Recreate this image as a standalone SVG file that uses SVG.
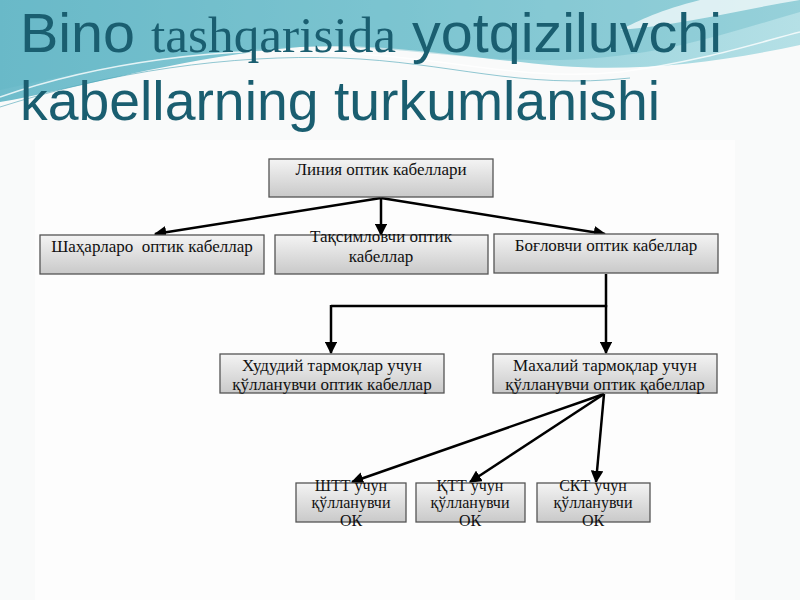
<svg xmlns="http://www.w3.org/2000/svg" width="800" height="600" viewBox="0 0 800 600">
<defs>
<linearGradient id="box" x1="0" y1="0" x2="0" y2="1">
<stop offset="0" stop-color="#f4f4f4"/>
<stop offset="1" stop-color="#c9c9c9"/>
</linearGradient>
<linearGradient id="sea" x1="0" y1="0" x2="1" y2="0">
<stop offset="0" stop-color="#6fbccb"/>
<stop offset="0.5" stop-color="#8ccdd8"/>
<stop offset="1" stop-color="#b5e0e6"/>
</linearGradient>
<marker id="ah" viewBox="0 0 10 10" refX="9" refY="5" markerWidth="5" markerHeight="5" orient="auto" markerUnits="strokeWidth">
<path d="M0,0 L10,5 L0,10 z" fill="#000"/>
</marker>
<style>
.bx{fill:url(#box);stroke:#555;stroke-width:1.3}
.t{font-family:"Liberation Serif","DejaVu Serif",serif;font-size:17px;fill:#111;text-anchor:middle}
.s{font-size:16px}
.ttl{font-family:"Liberation Sans",Arial,sans-serif;font-size:56px;fill:#1a5e70}
.c{stroke:#000;stroke-width:2.5;fill:none}
.a{marker-end:url(#ah)}
</style>
</defs>
<rect width="800" height="600" fill="#f9fafa"/>
<rect x="35" y="140" width="700" height="460" fill="#fdfdfd"/>
<g id="background">
<path d="M0,0 H800 V45 C720,62 640,72 560,66 C450,56 380,42 300,47 C180,57 80,88 0,102 Z" fill="url(#sea)"/>
<path d="M0,90 C80,72 180,50 300,47 C400,44 460,62 560,60 C660,58 730,32 800,12 V0 H0 Z" fill="#5fb4c4" opacity="0.35"/>
<path d="M700,0 C660,10 640,20 620,30 C680,25 740,10 800,0 Z" fill="#ffffff" opacity="0.7"/>
<path d="M0,97 C100,62 220,47 330,52 C450,57 520,82 620,72 C700,62 760,42 800,32" fill="none" stroke="#ffffff" stroke-width="1.5" opacity="0.8"/>
<path d="M0,107 C110,72 230,54 340,58 C450,62 520,90 630,78" fill="none" stroke="#4aa3b5" stroke-width="1" opacity="0.6"/>
</g>
<g id="title">
<text class="ttl" x="20" y="52" textLength="702" lengthAdjust="spacingAndGlyphs">Bino <tspan font-family="Liberation Serif,serif" font-size="50">tashqarisida</tspan> yotqiziluvchi</text>
<text class="ttl" x="20" y="120" textLength="640" lengthAdjust="spacingAndGlyphs">kabellarning turkumlanishi</text>
</g>
<g id="connectors">
<line class="c a" x1="381" y1="198" x2="155" y2="234"/>
<line class="c a" x1="381" y1="198" x2="381" y2="235"/>
<line class="c a" x1="381" y1="198" x2="605" y2="234"/>
<polyline class="c" points="606,274 606,306 331,306"/>
<line class="c a" x1="331" y1="305" x2="331" y2="353"/>
<line class="c a" x1="606" y1="305" x2="606" y2="353"/>
<line class="c a" x1="604" y1="394" x2="352" y2="482"/>
<line class="c a" x1="604" y1="394" x2="470" y2="482"/>
<line class="c a" x1="604" y1="394" x2="596" y2="482"/>
</g>
<g id="n-top"><rect class="bx" x="269" y="159" width="224" height="38"/><text class="t" x="381" y="175">Линия оптик кабеллари</text></g>
<g id="n-shaharlaro"><rect class="bx" x="40" y="235" width="224" height="39"/><text class="t" x="152" y="252" xml:space="preserve">Шаҳарларо  оптик кабеллар</text></g>
<g id="n-taqsimlovchi"><rect class="bx" x="275" y="235" width="213" height="39"/><text class="t" x="381" y="242">Тақсимловчи оптик</text><text class="t" x="381" y="262">кабеллар</text></g>
<g id="n-boglovchi"><rect class="bx" x="494" y="234" width="224" height="39"/><text class="t" x="606" y="251">Боғловчи оптик кабеллар</text></g>
<g id="n-hududiy"><rect class="bx" x="220" y="354" width="224" height="39"/><text class="t" x="332" y="371">Худудий тармоқлар учун</text><text class="t" x="332" y="390">қўлланувчи оптик кабеллар</text></g>
<g id="n-mahaliy"><rect class="bx" x="493" y="354" width="224" height="39"/><text class="t" x="605" y="371">Махалий тармоқлар учун</text><text class="t" x="605" y="390">қўлланувчи оптик қабеллар</text></g>
<g id="n-stt"><rect class="bx" x="296" y="483" width="110" height="39"/><text class="t s" x="351" y="491">ШТТ учун</text><text class="t s" x="351" y="508">қўлланувчи</text><text class="t s" x="351" y="526">ОК</text></g>
<g id="n-qtt"><rect class="bx" x="416" y="483" width="109" height="39"/><text class="t s" x="470" y="491">ҚТТ учун</text><text class="t s" x="470" y="508">қўлланувчи</text><text class="t s" x="470" y="526">ОК</text></g>
<g id="n-skt"><rect class="bx" x="537" y="483" width="113" height="39"/><text class="t s" x="593" y="491">СКТ учун</text><text class="t s" x="593" y="508">қўлланувчи</text><text class="t s" x="593" y="526">ОК</text></g>
</svg>
